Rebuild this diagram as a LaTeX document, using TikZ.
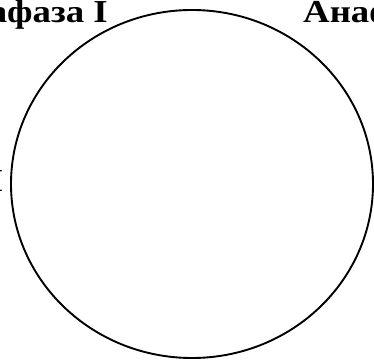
\documentclass[tikz,border=0pt]{standalone}
\usepackage{fontspec}
\setmainfont[FakeStretch=1.15]{Liberation Serif}
\usetikzlibrary{positioning}

\begin{document}
\begin{tikzpicture}[x=1pt,y=1pt,
    stage/.style={font=\fontsize{32}{34}\selectfont\bfseries, inner sep=0pt}]
    \useasboundingbox (0,0) rectangle (374,361);
    \clip (0,0) rectangle (374,361);
    \coordinate (O) at (192,177);
    % the cell
    \draw[line width=1.9pt] (O) ellipse [x radius=181, y radius=174];
    % stage labels
    \node[stage, anchor=base east] (meta) at (108,338) {Метафаза I};
    \node[stage, anchor=base west] (ana) at (303,338) {Анафаза I};
    \node[stage, anchor=base east] (pro) at (3.5,169) {Профаза I};
\end{tikzpicture}
\end{document}
